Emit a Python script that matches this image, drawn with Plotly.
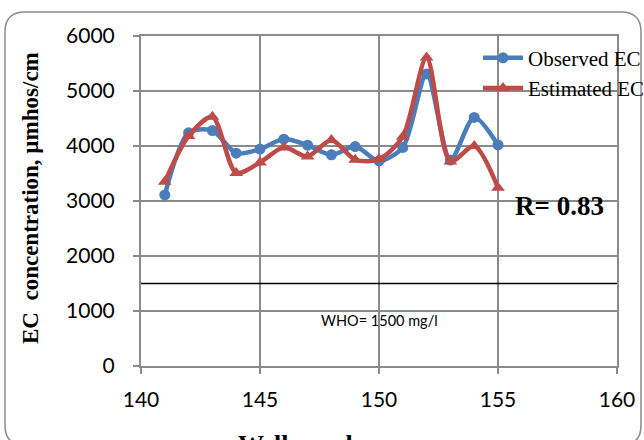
import plotly.graph_objects as go

wells = [141, 142, 143, 144, 145, 146, 147, 148, 149, 150, 151, 152, 153, 154, 155]
observed_ec = [3110, 4240, 4280, 3870, 3945, 4125, 4015, 3840, 3990, 3730, 3975, 5310, 3745, 4520, 4020]
estimated_ec = [3350, 4180, 4530, 3510, 3700, 3975, 3810, 4110, 3750, 3760, 4170, 5610, 3720, 4000, 3240]
who_limit = 1500
x_ticks = [140, 145, 150, 155, 160]
y_ticks = [0, 1000, 2000, 3000, 4000, 5000, 6000]

fig = go.Figure()
fig.add_trace(go.Scatter(
    x=wells, y=observed_ec, name="Observed EC", mode="lines+markers",
    line=dict(color="#4a7ebb", width=4.5, shape="spline", smoothing=0.8),
    marker=dict(symbol="circle", size=11, color="#4a7ebb"),
))
fig.add_trace(go.Scatter(
    x=wells, y=estimated_ec, name="Estimated EC", mode="lines+markers",
    line=dict(color="#be4b48", width=4.5, shape="spline", smoothing=0.8),
    marker=dict(symbol="triangle-up", size=12, color="#be4b48"),
))
fig.add_trace(go.Scatter(
    x=[x_ticks[0], x_ticks[-1]], y=[who_limit, who_limit], mode="lines",
    line=dict(color="black", width=1.5), showlegend=False, hoverinfo="skip",
))

# rounded chart border
x0, x1 = -0.2857, 1.0504
y0, y1 = -0.24, 1.0727
rx, ry = 0.042, 0.06
path = (f"M {x0+rx},{y1} L {x1-rx},{y1} Q {x1},{y1} {x1},{y1-ry} "
        f"L {x1},{y0+ry} Q {x1},{y0} {x1-rx},{y0} L {x0+rx},{y0} "
        f"Q {x0},{y0} {x0},{y0+ry} L {x0},{y1-ry} Q {x0},{y1} {x0+rx},{y1} Z")
fig.add_shape(type="path", path=path, xref="paper", yref="paper",
              line=dict(color="#8c8c8c", width=1.5), layer="below")

fig.add_annotation(x=150, y=836, xref="x", yref="y",
                   text="WHO= 1500 mg/l", showarrow=False,
                   font=dict(family="Lato", size=14.5, color="black"), yanchor="middle")
fig.add_annotation(x=(606 - 141) / 476, y=(366 - 206) / 330, xref="paper", yref="paper",
                   text="<b>R= 0.83</b>", showarrow=False, xanchor="right", yanchor="middle",
                   font=dict(family="Liberation Serif", size=27, color="black"))
# axis titles
fig.add_annotation(x=(30 - 141) / 476, y=(366 - 198) / 330, xref="paper", yref="paper",
                   text="<b>EC  concentration, µmhos/cm</b>", showarrow=False, textangle=-90,
                   xanchor="center", yanchor="middle",
                   font=dict(family="Liberation Serif", size=23, color="black"))
fig.add_annotation(x=(310 - 141) / 476, y=(366 - 444) / 330, xref="paper", yref="paper",
                   text="<b>Well number</b>", showarrow=False,
                   xanchor="center", yanchor="middle",
                   font=dict(family="Liberation Serif", size=26, color="black"))

axis_common = dict(showgrid=True, gridcolor="#8a8a8a", gridwidth=2, showline=True,
                   linecolor="#8a8a8a", linewidth=2, mirror=True, ticks="outside",
                   ticklen=6, tickcolor="#8a8a8a", tickwidth=2, zeroline=False,
                   automargin=False, tickfont=dict(family="Lato", size=21, color="black"))

fig.update_layout(
    width=644, height=440,
    margin=dict(l=141, r=27, t=36, b=74, autoexpand=False),
    paper_bgcolor="white", plot_bgcolor="white",
    showlegend=True,
    legend=dict(x=0.708, y=0.995, xanchor="left", yanchor="top",
                bgcolor="rgba(0,0,0,0)", font=dict(family="Liberation Serif", size=21, color="black"),
                tracegroupgap=0, itemwidth=40),
    xaxis=dict(range=[140, 160], tickvals=x_ticks, ticklabelstandoff=8, **axis_common),
    yaxis=dict(range=[0, 6000], tickvals=y_ticks, ticklabelstandoff=14, **axis_common),
)

fig.write_html("out.html")
